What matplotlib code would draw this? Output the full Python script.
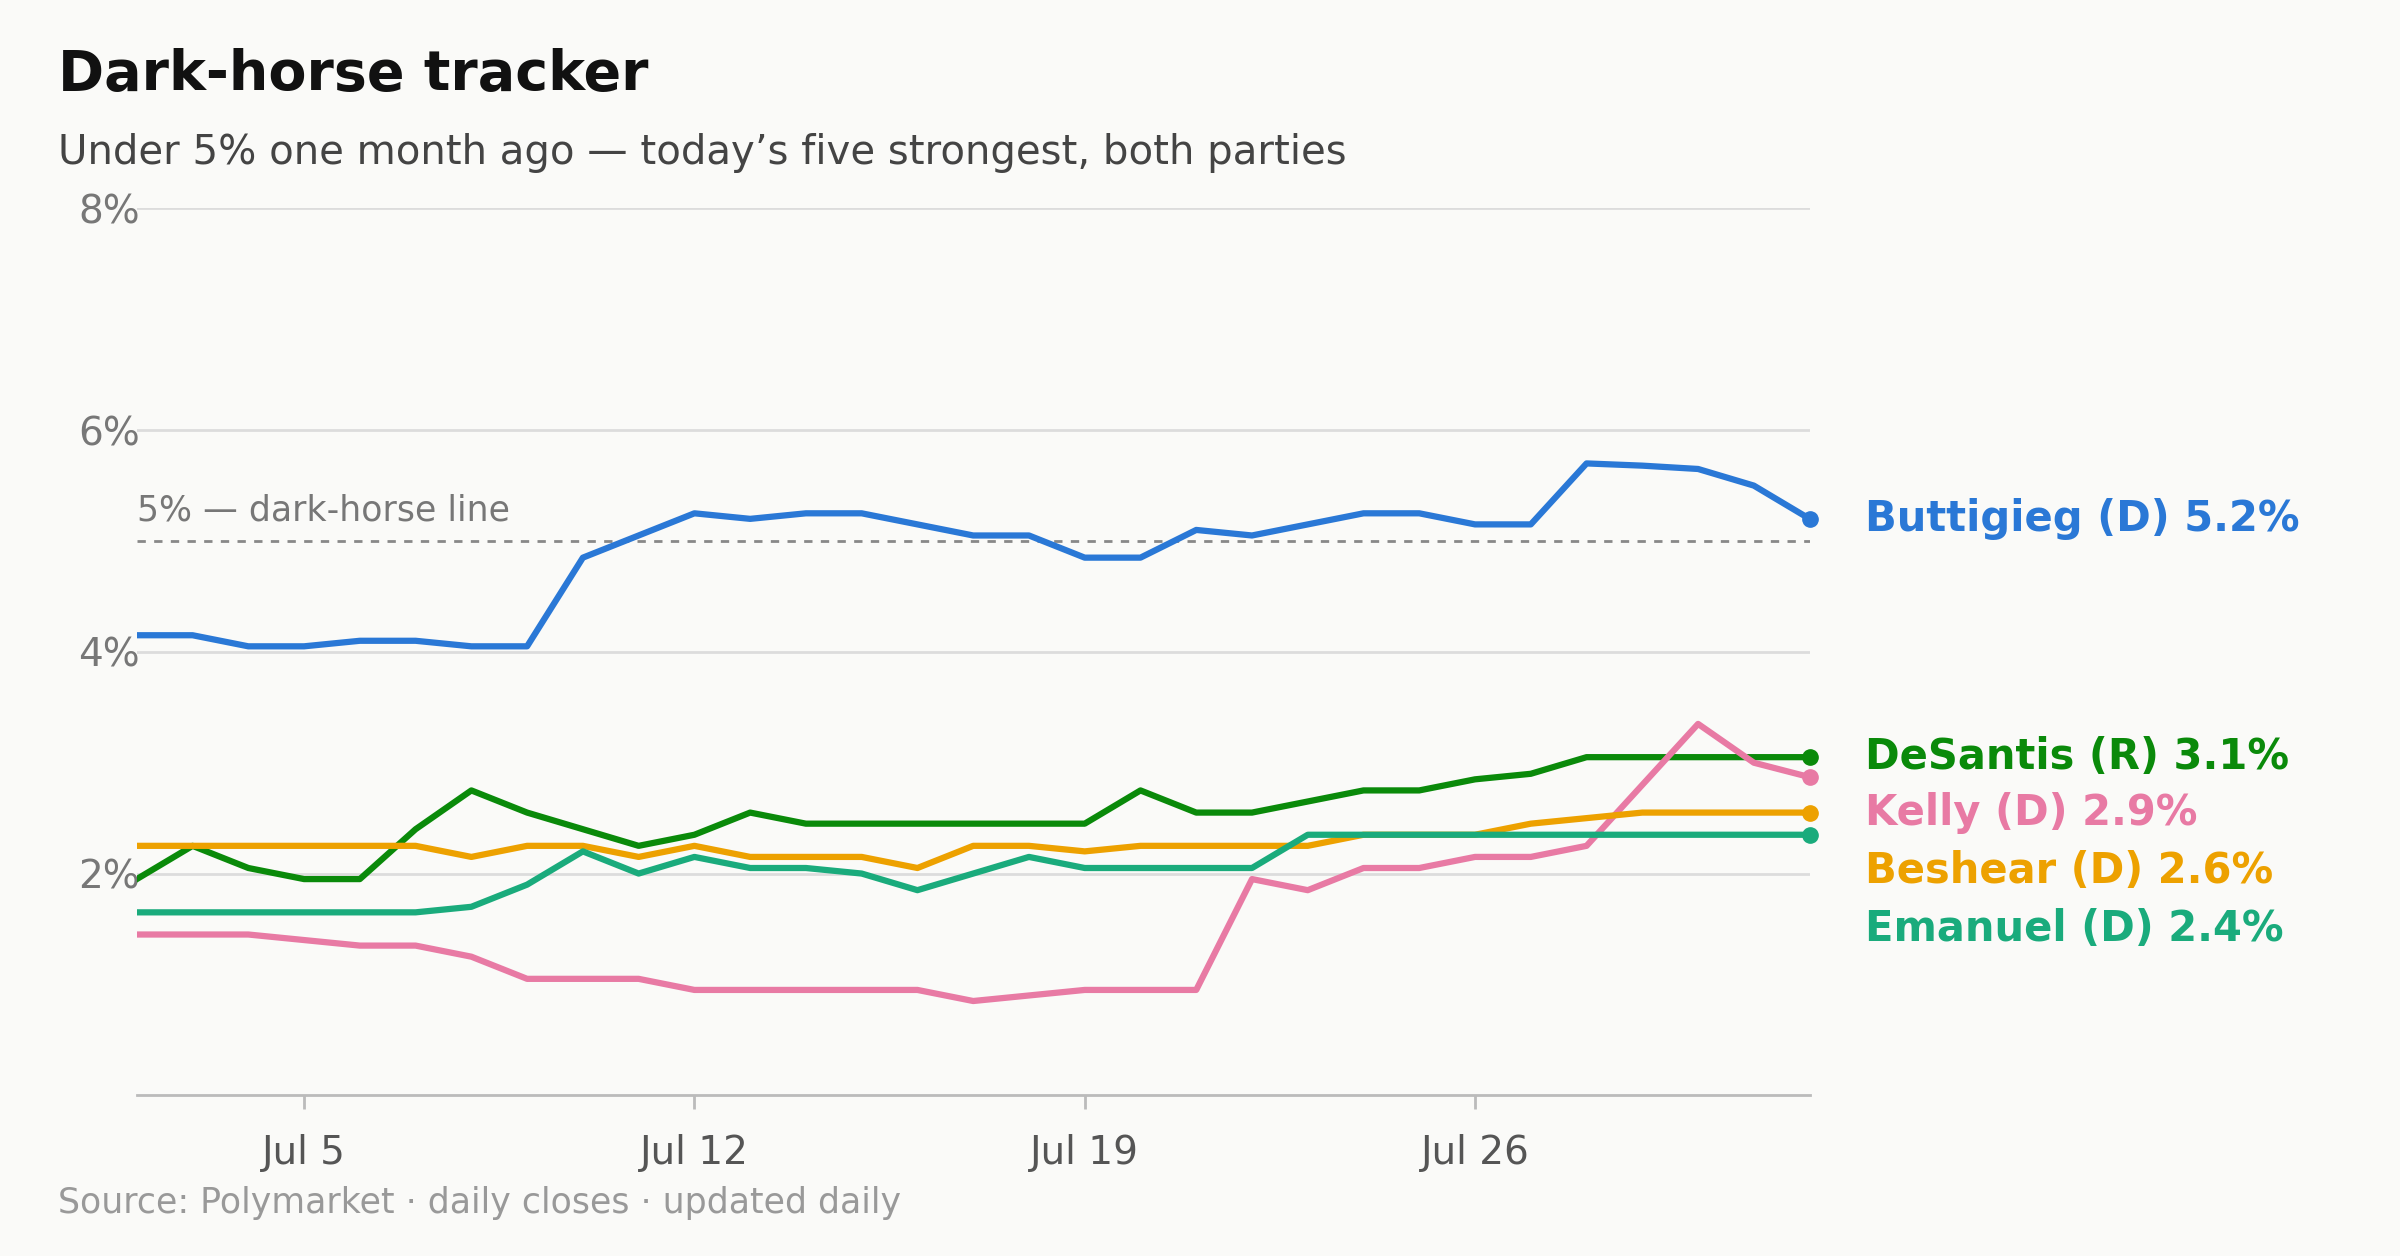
import matplotlib
matplotlib.use("Agg")
import matplotlib.pyplot as plt
import numpy as np
import datetime as dt
import matplotlib.dates as mdates

dates = [dt.date(2024,7,2) + dt.timedelta(days=i) for i in range(31)]
buttigieg = [4.15,4.15,4.05,4.05,4.1,4.1,4.05,4.05,4.85,5.05,5.25,5.2,5.25,5.25,5.15,5.05,5.05,4.85,4.85,5.1,5.05,5.15,5.25,5.25,5.15,5.15,5.7,5.68,5.65,5.5,5.2]
desantis = [1.95,2.25,2.05,1.95,1.95,2.4,2.75,2.55,2.4,2.25,2.35,2.55,2.45,2.45,2.45,2.45,2.45,2.45,2.75,2.55,2.55,2.65,2.75,2.75,2.85,2.9,3.05,3.05,3.05,3.05,3.05]
kelly = [1.45,1.45,1.45,1.4,1.35,1.35,1.25,1.05,1.05,1.05,0.95,0.95,0.95,0.95,0.95,0.85,0.9,0.95,0.95,0.95,1.95,1.85,2.05,2.05,2.15,2.15,2.25,2.8,3.35,3.0,2.87]
beshear = [2.25,2.25,2.25,2.25,2.25,2.25,2.15,2.25,2.25,2.15,2.25,2.15,2.15,2.15,2.05,2.25,2.25,2.2,2.25,2.25,2.25,2.25,2.35,2.35,2.35,2.45,2.5,2.55,2.55,2.55,2.55]
emanuel = [1.65,1.65,1.65,1.65,1.65,1.65,1.7,1.9,2.2,2.0,2.15,2.05,2.05,2.0,1.85,2.0,2.15,2.05,2.05,2.05,2.05,2.35,2.35,2.35,2.35,2.35,2.35,2.35,2.35,2.35,2.35]
series = [("Buttigieg (D) 5.2%", buttigieg, "#2a78d6", 5.2),
          ("DeSantis (R) 3.1%", desantis, "#0a8a0a", 3.05),
          ("Kelly (D) 2.9%", kelly, "#e87aa4", 2.55),
          ("Beshear (D) 2.6%", beshear, "#eda100", 2.02),
          ("Emanuel (D) 2.4%", emanuel, "#1aab7c", 1.5)]
bg = "#fafaf8"
fig = plt.figure(figsize=(24, 12.56), dpi=100, facecolor=bg)
ax = fig.add_axes([0.057, 0.128, 0.697, 0.706], facecolor=bg)
ax.set_xlim(dates[0], dates[-1])
ax.set_ylim(0, 8)
for y in [2,4,6,8]:
    ax.axhline(y, color="#dcdcdc", lw=2, zorder=0)
ax.axhline(5, color="#888888", lw=2, ls=(0,(3,3)), zorder=1)
ax.text(dates[0]+dt.timedelta(days=0.15), 5.12, "5% — dark-horse line", fontsize=25, color="#777777", va="bottom")
for lab, vals, c, ly in series:
    ax.plot(dates, vals, color=c, lw=4.5, zorder=3)
    ax.plot(dates[-1], vals[-1], "o", color=c, ms=11, zorder=4, clip_on=False)
    ax.annotate(lab, (dates[-1], ly), xytext=(40, 0), textcoords="offset points",
                fontsize=30, fontweight="bold", color=c, va="center", annotation_clip=False)
for s in ["top","right","left"]:
    ax.spines[s].set_visible(False)
ax.spines["bottom"].set_color("#bbbbbb"); ax.spines["bottom"].set_linewidth(2)
ax.set_yticks([2,4,6,8]); ax.set_yticklabels(["2%","4%","6%","8%"])
ax.tick_params(axis="y", length=0, labelsize=28, labelcolor="#777777", pad=-2)
for t in ax.get_yticklabels():
    t.set_horizontalalignment("right")
ax.set_xticks([dt.date(2024,7,d) for d in (5,12,19,26)])
ax.xaxis.set_major_formatter(mdates.DateFormatter("Jul %-d"))
ax.tick_params(axis="x", length=10, width=2, color="#bbbbbb", labelsize=28, labelcolor="#555555", pad=18)
fig.text(0.024, 0.94, "Dark-horse tracker", fontsize=40, fontweight="bold", color="#111111", va="center")
fig.text(0.024, 0.878, "Under 5% one month ago — today’s five strongest, both parties", fontsize=29, color="#444444", va="center")
fig.text(0.024, 0.042, "Source: Polymarket · daily closes · updated daily", fontsize=25, color="#999999", va="center")
fig.savefig("out.png", dpi=100, facecolor=bg)
